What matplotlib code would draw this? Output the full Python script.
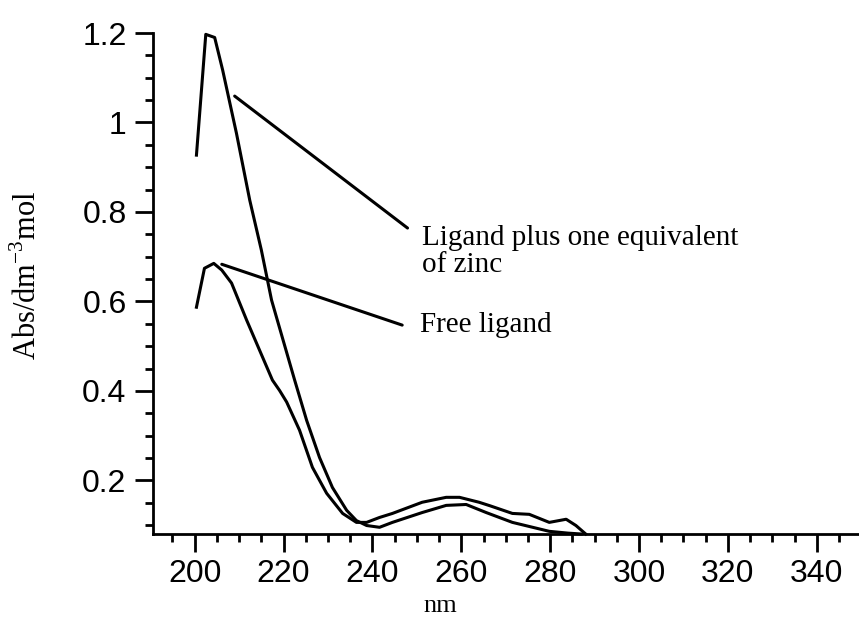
import matplotlib.pyplot as plt
from matplotlib.ticker import MultipleLocator, FormatStrFormatter

# ligand plus one equivalent of zinc
zinc_nm = [200.4, 202.5, 204.5, 206.3, 209.4, 212.4, 215.0, 217.3, 218.4, 222.5,
           225.2, 228.1, 231.0, 234.2, 236.4, 238.7, 241.6, 244.5, 251.2, 256.6,
           261.1, 265.6, 271.5, 279.8, 284.0, 287.0]
zinc_abs = [0.927, 1.197, 1.190, 1.117, 0.976, 0.826, 0.715, 0.603, 0.565, 0.424,
            0.334, 0.251, 0.184, 0.133, 0.110, 0.099, 0.095, 0.106, 0.128, 0.144,
            0.146, 0.128, 0.106, 0.086, 0.082, 0.080]

# free ligand
free_nm = [200.4, 202.2, 204.3, 206.1, 208.3, 211.7, 214.6, 217.5, 219.1, 220.7,
           223.6, 226.5, 229.7, 233.3, 236.4, 238.7, 241.6, 244.5, 251.2, 256.6,
           259.6, 264.0, 266.5, 271.5, 275.3, 279.8, 283.6, 285.8, 288.0]
free_abs = [0.587, 0.674, 0.685, 0.670, 0.641, 0.558, 0.491, 0.424, 0.401, 0.375,
            0.312, 0.229, 0.171, 0.126, 0.106, 0.106, 0.117, 0.126, 0.151, 0.162,
            0.162, 0.151, 0.143, 0.126, 0.124, 0.106, 0.113, 0.099, 0.080]

labels = ["Ligand plus one equivalent", "of zinc", "Free ligand"]

fig = plt.figure(figsize=(8.59, 6.17), dpi=100)
ax = fig.add_axes([0.178, 0.1345, 0.822, 0.812])

ax.plot(zinc_nm, zinc_abs, color='black', lw=2.2, clip_on=False)
ax.plot(free_nm, free_abs, color='black', lw=2.2, clip_on=False)

# leader lines to the labels
ax.annotate('', xy=(209.0, 1.059), xytext=(247.9, 0.764),
            arrowprops=dict(arrowstyle='-', lw=2.2, color='black', shrinkA=0, shrinkB=0))
ax.annotate('', xy=(206.1, 0.683), xytext=(246.7, 0.547),
            arrowprops=dict(arrowstyle='-', lw=2.2, color='black', shrinkA=0, shrinkB=0))

serif = 'Liberation Serif'
ax.text(251.2, 0.726, labels[0], family=serif, fontsize=21, va='baseline', ha='left')
ax.text(251.2, 0.665, labels[1], family=serif, fontsize=21, va='baseline', ha='left')
ax.text(250.6, 0.531, labels[2], family=serif, fontsize=21, va='baseline', ha='left')

ax.set_xlim(190.6, 349.5)
ax.set_ylim(0.08, 1.2)

ax.spines['top'].set_visible(False)
ax.spines['right'].set_visible(False)
ax.spines['left'].set_linewidth(2)
ax.spines['bottom'].set_linewidth(2)

ax.xaxis.set_major_locator(MultipleLocator(20))
ax.xaxis.set_minor_locator(MultipleLocator(5))
ax.yaxis.set_major_locator(MultipleLocator(0.2))
ax.yaxis.set_minor_locator(MultipleLocator(0.05))
ax.yaxis.set_major_formatter(FormatStrFormatter('%g'))

ax.tick_params(which='major', direction='out', length=13, width=2, labelsize=23)
ax.tick_params(axis='x', which='major', pad=5)
ax.tick_params(axis='y', which='major', pad=6)
ax.tick_params(which='minor', direction='out', length=6, width=2)
for lab in ax.get_xticklabels() + ax.get_yticklabels():
    lab.set_family('Liberation Sans')

fig.text(0.5125, 0.0, 'nm', family=serif, fontsize=19, ha='center', va='bottom')
fig.text(0.032, 0.554, r'Abs/dm$^{\mathregular{-3}}$mol', family=serif, fontsize=22,
         rotation=90, ha='center', va='center')

fig.savefig('out.png', dpi=100)
